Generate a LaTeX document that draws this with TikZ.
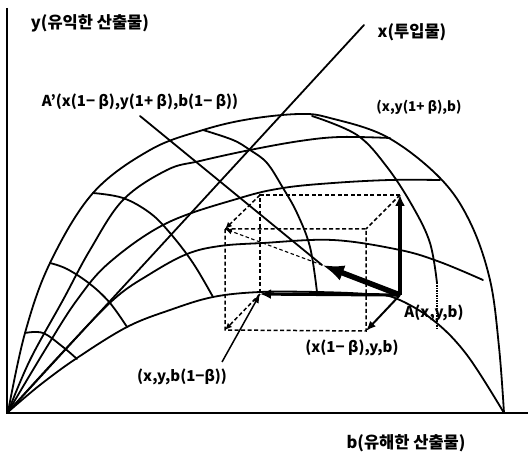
\documentclass[tikz,border=0pt]{standalone}
\usepackage{fontspec}
\setmainfont{Noto Sans CJK KR}
\usetikzlibrary{arrows.meta}
\begin{document}
\begin{tikzpicture}[x=1pt,y=-1pt,
  curve/.style={line width=1.8pt, line join=round, line cap=round},
  axisline/.style={line width=1.3pt},
  dsh/.style={line width=1.5pt, dash pattern=on 4pt off 2.5pt},
  thin dsh/.style={line width=1.1pt, dash pattern=on 3.5pt off 2.5pt},
  lbl/.style={font=\bfseries\fontsize{15}{17}\selectfont, inner sep=0pt},
  klbl/.style={font=\bfseries\fontsize{16.5}{18}\selectfont, inner sep=0pt},
  tip/.style={-{Latex[length=9pt,width=7pt]}},
  smalltip/.style={-{Latex[length=7pt,width=6pt]}}]
\fill[white] (0,0) rectangle (528,457);
\useasboundingbox (0,0) rectangle (528,457);

% axes
\coordinate (O) at (8,412);
\coordinate (Ytop) at (7,8);
\coordinate (Xright) at (528,413);
\coordinate (Xin) at (364,25);
\draw[axisline] (Ytop) -- (7,413) -- (Xright);
\draw[curve] (O) -- (Xin);

% frontier curves from origin
\draw[curve] plot[smooth, tension=0.6] coordinates {(8,412) (25,333) (50,263) (93,193) (150,150) (203,130) (250,119) (300,114) (330,118) (387,137) (440,178) (470,222) (490,280) (499,347) (504,413)};
\draw[curve] plot[smooth, tension=0.6] coordinates {(8,412) (30,360) (63,300) (90,250) (123,200) (167,170) (200,161) (250,150) (300,141) (340,137) (390,138)};
\draw[curve] plot[smooth, tension=0.6] coordinates {(8,412) (45,350) (77,300) (110,262) (167,223) (240,198) (283,188) (333,183) (390,180) (440,180)};
\draw[curve] plot[smooth, tension=0.6] coordinates {(8,412) (60,355) (113,300) (150,274) (187,254) (220,246) (263,243) (333,240) (400,250) (440,262) (483,280)};
\draw[curve] plot[smooth, tension=0.6] coordinates {(8,412) (40,385) (77,358) (127,327) (170,310) (213,297) (260,292) (317,292) (367,294) (395,298) (433,320) (467,355) (504,413)};

% cross curves
\draw[curve] plot[smooth, tension=0.6] coordinates {(25,333) (43,333) (63,347) (77,359)};
\draw[curve] plot[smooth, tension=0.6] coordinates {(50,263) (67,269) (90,284) (110,303) (127,327)};
\draw[curve] plot[smooth, tension=0.6] coordinates {(93,193) (123,198) (150,213) (170,233) (193,263) (213,297)};
\draw[curve] plot[smooth, tension=0.6] coordinates {(203,130) (233,140) (250,150) (267,163) (283,188) (297,213) (310,247) (317,292)};
\draw[curve] plot[smooth, tension=0.6] coordinates {(312,116) (357,135) (387,167) (413,207) (430,243) (437,283)};
\draw[line width=1.1pt, dash pattern=on 1.5pt off 1pt] (437,283) -- (437,330);

% box
\coordinate (A) at (400,295);
\coordinate (Au) at (400,195);
\coordinate (Aw) at (260,294);
\coordinate (Auw) at (260,195);
\coordinate (Av) at (366,331);
\coordinate (Avu) at (366,229);
\coordinate (Avw) at (225,330);
\coordinate (Ap) at (225,229);
\coordinate (P) at (322,265);
\coordinate (L1) at (140,116);
\coordinate (L2) at (222,362);

\draw[dsh] (Au) -- (Auw) -- (Aw);
\draw[dsh] (Ap) -- (Avu) -- (Av) -- (Avw) -- (Ap);
\draw[dsh] (Au) -- (Avu);
\draw[dsh, smalltip] (Auw) -- (Ap);
\draw[dsh, smalltip] (Aw) -- (Avw);
\draw[thin dsh, smalltip] (P) -- (Ap);

% leaders
\draw[curve] (L1) -- (P);
\draw[line width=1.5pt, tip] (L2) -- (Aw);

% arrows from A
\draw[line width=3.2pt, -{Latex[length=11pt,width=10pt]}] (A) -- (Au);
\draw[line width=3.2pt, -{Latex[length=11pt,width=10pt]}] (A) -- (Aw);
\draw[line width=2pt, -{Latex[length=10pt,width=8pt]}] (A) -- (Av);
\draw[line width=5.5pt, -{Latex[length=22pt,width=16pt]}] (A) -- (P);

% labels
\node[klbl] (ylab) at (90,23) {y(유익한 산출물)};
\node[klbl] (xlab) at (412,32) {x(투입물)};
\node[klbl] (blab) at (406,443) {b(유해한 산출물)};
\node[lbl] (apl) at (140,102) {A'(x(1− β),y(1+ β),b(1− β))};
\node[lbl, font=\bfseries\fontsize{13.5}{16}\selectfont] (yup) at (419,107) {(x,y(1+ β),b)};
\node[lbl] (al) at (434,313) {A(x,y,b)};
\node[lbl] (xdn) at (352,348) {(x(1− β),y,b)};
\node[lbl] (bdn) at (182,377) {(x,y,b(1−β))};
\end{tikzpicture}
\end{document}
